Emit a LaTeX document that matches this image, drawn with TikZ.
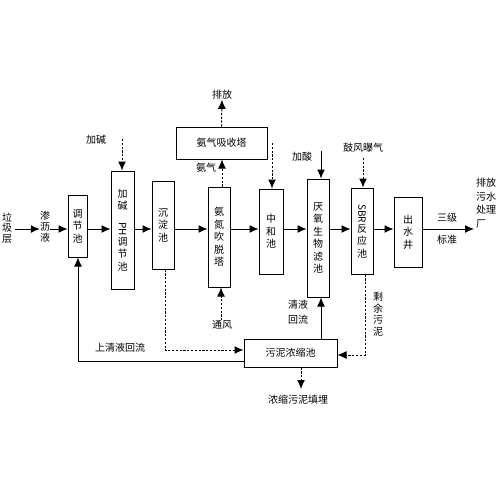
\documentclass[tikz,border=0pt]{standalone}
\usepackage{fontspec}
\setmainfont{Noto Sans CJK SC}
\usetikzlibrary{arrows.meta}
\tikzset{
  box/.style={draw, line width=1pt, inner sep=0pt, align=center, font=\fontsize{10}{12.5}\selectfont},
  lbl/.style={inner sep=0pt, align=center, font=\fontsize{10}{12.5}\selectfont},
  arr/.style={line width=1pt, -{Latex[length=9pt,width=8pt]}},
  darr/.style={line width=1pt, dash pattern=on 2.2pt off 1.6pt, -{Latex[length=9pt,width=8pt]}}
}
\begin{document}
\begin{tikzpicture}[x=1pt,y=-1pt]
\useasboundingbox[fill=white] (0,0) rectangle (500,500);
% boxes
\node[box, minimum width=19pt, minimum height=62pt] (tj) at (77.5,226) {调\\节\\池};
\node[box, minimum width=23pt, minimum height=118pt] (jj) at (122.5,230) {加\\碱\\\rotatebox{-90}{PH}\\调\\节\\池};
\node[box, minimum width=22pt, minimum height=88pt] (cd) at (163,225) {沉\\淀\\池};
\node[box, minimum width=22pt, minimum height=100pt] (cts) at (219,237) {氨\\氮\\吹\\脱\\塔};
\node[box, minimum width=24pt, minimum height=85pt] (zh) at (271,231.5) {中\\和\\池};
\node[box, minimum width=91pt, minimum height=32pt] (xs) at (221.5,143) {氨气吸收塔};
\node[box, minimum width=22pt, minimum height=118pt] (yy) at (318,238) {厌\\氧\\生\\物\\滤\\池};
\node[box, minimum width=22pt, minimum height=86pt] (sbr) at (362,231) {\rotatebox{-90}{SBR}\\反\\应\\池};
\node[box, minimum width=28pt, minimum height=70pt] (cs) at (408,232) {出\\水\\井};
\node[box, minimum width=93pt, minimum height=28pt] (wn) at (290.5,353) {污泥浓缩池};
% labels
\node[lbl, font=\fontsize{10}{10.5}\selectfont] (lj) at (7,228) {垃\\圾\\层};
\node[lbl, font=\fontsize{10}{11}\selectfont] (sl) at (45,227) {渗\\沥\\液};
\node[lbl] (jia) at (96,140) {加碱};
\node[lbl] (pf) at (222,95) {排放};
\node[lbl] (aq) at (206,168) {氨气};
\node[lbl] (tf) at (222,325) {通风};
\node[lbl] (js) at (302,157) {加酸};
\node[lbl] (gf) at (363,148) {鼓风曝气};
\node[lbl] (sj) at (447,218) {三级};
\node[lbl] (bz) at (447,240) {标准};
\node[lbl, align=left, anchor=west, font=\fontsize{10}{13.5}\selectfont] (pw) at (476,203) {排放\\污水\\处理\\厂};
\node[lbl] (sq) at (120,348) {上清液回流};
\node[lbl, font=\fontsize{10}{15}\selectfont] (qy) at (298,312) {清液\\回流};
\node[lbl, font=\fontsize{10}{11.5}\selectfont] (sy) at (378,314) {剩\\余\\污\\泥};
\node[lbl] (nw) at (298,400) {浓缩污泥填埋};
\coordinate (end) at (474,229);
\coordinate (xz) at (272,143);
% main flow
\draw[arr] (lj.east |- 0,229) ++(3,0) -- (sl.west |- 0,229);
\draw[arr] (sl.east |- 0,229) -- (tj.west |- 0,229);
\draw[arr] (tj.east |- 0,229) -- (jj.west |- 0,229);
\draw[arr] (jj.east |- 0,229) -- (cd.west |- 0,229);
\draw[arr] (cd.east |- 0,229) -- (cts.west |- 0,229);
\draw[arr] (cts.east |- 0,229) -- (zh.west |- 0,229);
\draw[arr] (zh.east |- 0,229) -- (yy.west |- 0,229);
\draw[arr] (yy.east |- 0,229) -- (sbr.west |- 0,229);
\draw[arr] (sbr.east |- 0,229) -- (cs.west |- 0,229);
\draw[arr] (cs.east |- 0,229) -- (end);
% additions
\draw[darr] (122,139) -- (jj.north -| 122,0);
\draw[darr] (xs.north) -- (pf.south);
\draw[darr] (cts.north -| 222,0) -- (xs.south -| 222,0);
\draw[darr] (xz) -- (zh.north -| xz);
\draw[arr] (321,151) -- (yy.north -| 321,0);
\draw[darr] (363,158) -- (sbr.north -| 363,0);
\draw[darr] (tf.north -| 221,0) -- (cts.south -| 221,0);
% sludge
\draw[darr] (cd.south -| 165,0) |- (wn.west |- 0,350);
\draw[darr] (sbr.south -| 365,0) |- (wn.east |- 0,355);
\draw[arr] (wn.north -| 321,0) -- (yy.south -| 321,0);
\draw[darr] (wn.south -| 301,0) -- (301,389);
\draw[arr] (wn.west |- 0,361) -| (tj.south -| 78,0);
\end{tikzpicture}
\end{document}
